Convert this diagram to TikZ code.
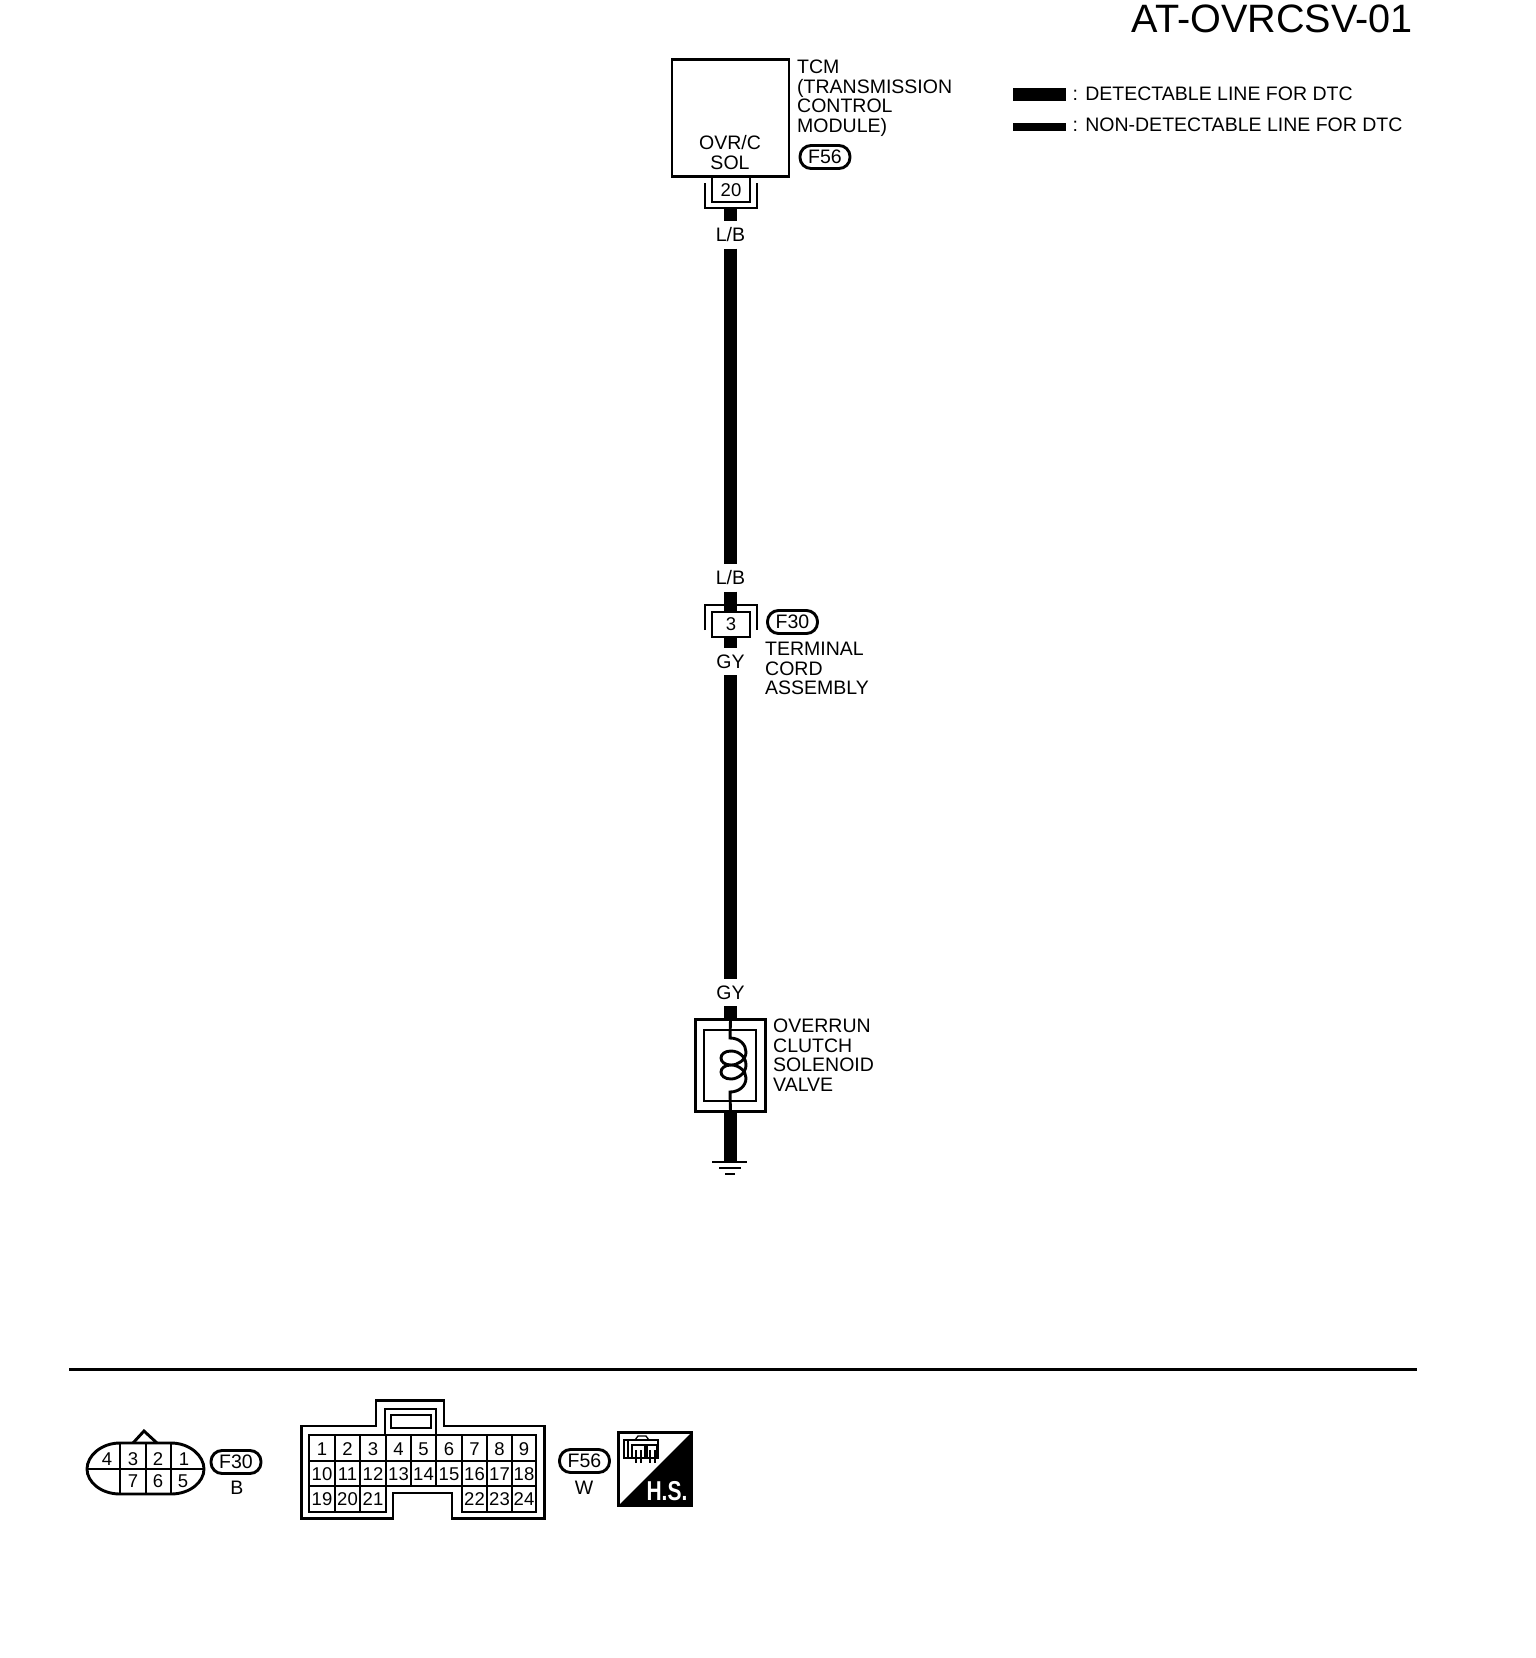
\documentclass[tikz,border=0pt]{standalone}
\usepackage{fontspec}
\setmainfont{Liberation Sans}
\tikzset{
  lbl/.style={inner sep=0pt,font=\fontsize{19.5}{19.5}\selectfont,align=left,anchor=west},
  num/.style={inner sep=0pt,font=\fontsize{18.5}{18}\selectfont},
  wirelbl/.style={inner sep=0pt,minimum width=36pt,minimum height=27pt,font=\fontsize{19.5}{19}\selectfont},
  wire/.style={line width=13pt},
  frame/.style={line width=2.9pt},
  badge/.style={draw,line width=2.9pt,rounded corners=11pt,inner sep=0pt,minimum width=50pt,minimum height=23pt,font=\fontsize{19.5}{19}\selectfont},
}
\begin{document}
\begin{tikzpicture}[x=1pt,y=-1pt]
\useasboundingbox (0,0) rectangle (1536,1658);

% titulo y leyenda
\node[inner sep=0pt,anchor=east,font=\fontsize{39.6}{39}\selectfont] (title) at (1413,19) {AT-OVRCSV-01};
\node[lbl] (legthick) at (1072.5,94) {: DETECTABLE LINE FOR DTC};
\node[lbl] (legthin) at (1072.5,125) {: NON-DETECTABLE LINE FOR DTC};
\fill (1013,88) rectangle (1066,101);
\fill (1013,123) rectangle (1066,131);

% TCM
\node[draw,line width=2.9pt,minimum width=117pt,minimum height=117pt,inner sep=0pt] (tcm) at (730.5,118) {};
\node[lbl,anchor=north west] (tcmtxt) at (797,60) {TCM\\(TRANSMISSION\\CONTROL\\MODULE)};
\node[lbl,anchor=center,align=center] (sol) at (730,152.5) {OVR/C\\SOL};
\node[badge] (f56a) at (825,157) {F56};

\coordinate (c20a) at (712,177);
\coordinate (c20b) at (750,202);
\draw[frame] (c20a) -- (c20a |- c20b) -- (c20b) -- (c20b |- c20a);
\draw[frame] (705,183) -- (705,208) -- (757,208) -- (757,183);
\node[num] (p20) at (731,190) {20};

% cableado
\coordinate (w0) at (730.5,208);
\node[wirelbl] (lb1) at (730.5,235) {L/B};
\node[wirelbl] (lb2) at (730.5,578) {L/B};
\node[wirelbl] (gy1) at (730.5,661.5) {GY};
\node[wirelbl] (gy2) at (730.5,992.5) {GY};
\coordinate (w1) at (730.5,612);
\coordinate (w2) at (730.5,637);
\coordinate (w3) at (730.5,1020);
\coordinate (w4) at (730.5,1112);
\coordinate (gnd) at (730.5,1162);
\draw[wire] (w0) -- (lb1.north);
\draw[wire] (lb1.south) -- (lb2.north);
\draw[wire] (lb2.south) -- (w1);
\draw[wire] (w2) -- (gy1.north);
\draw[wire] (gy1.south) -- (gy2.north);
\draw[wire] (gy2.south) -- (w3);
\draw[wire] (w4) -- (gnd);

% F30
\node[draw,line width=2.9pt,minimum width=38pt,minimum height=25pt,inner sep=0pt] (p3) at (731,624.5) {\fontsize{18.5}{18}\selectfont 3};
\draw[frame] (705,630) -- (705,605) -- (757,605) -- (757,630);
\node[badge] (f30a) at (792.5,622) {F30};
\node[lbl,anchor=north west] (tca) at (765,642) {TERMINAL\\CORD\\ASSEMBLY};

% solenoide
\node[draw,line width=2.9pt,minimum width=70pt,minimum height=92pt,inner sep=0pt] (solo) at (730.5,1065.5) {};
\node[draw,line width=2.9pt,minimum width=52pt,minimum height=71pt,inner sep=0pt] (soli) at (730,1065.5) {};
\node[lbl,anchor=north west] (ovr) at (773,1019) {OVERRUN\\CLUTCH\\SOLENOID\\VALVE};
\coordinate (coila) at (730,1038);
\coordinate (coilb) at (730,1092);
\draw[frame] (w3) -- (coila)
  .. controls (740,1038) and (746,1045) .. (746,1052)
  .. controls (746,1060) and (738,1065) .. (731,1065)
  .. controls (725,1065) and (721,1062) .. (721,1058)
  .. controls (721,1054) and (725,1051) .. (731,1051)
  .. controls (739,1051) and (746,1057) .. (746,1065)
  .. controls (746,1073) and (738,1079) .. (731,1079)
  .. controls (725,1079) and (721,1076) .. (721,1072)
  .. controls (721,1068) and (725,1065) .. (731,1065)
  .. controls (739,1065) and (746,1071) .. (746,1078)
  .. controls (746,1086) and (739,1092) .. (coilb) -- (w4);

% masa
\draw[frame] (712,1162) -- (747,1162);
\draw[frame] (719,1168) -- (741,1168);
\draw[frame] (725,1174) -- (735,1174);

% separador
\draw[line width=3pt] (69,1369.5) -- (1417,1369.5);

% conector F30
\begin{scope}
\draw[frame] (120,1443) -- (171,1443) .. controls (190,1443) and (204,1456) .. (204,1469)
  .. controls (204,1482) and (190,1494) .. (171,1494) -- (120,1494)
  .. controls (101,1494) and (87,1482) .. (87,1469)
  .. controls (87,1456) and (101,1443) .. (120,1443) -- cycle;
\draw[frame] (87,1469) -- (204,1469);
\foreach \x in {120,146,171} \draw[frame] (\x,1443) -- (\x,1494);
\draw[frame] (133,1443) -- (144,1431) -- (157,1443);
\foreach \n/\x/\y in {4/107/1459,3/133/1459,2/158/1459,1/184/1459,7/133/1481,6/158/1481,5/183/1481}
  \node[num] (fa\n) at (\x,\y) {\n};
\node[badge] (f30b) at (236,1462) {F30};
\node[num,font=\fontsize{19.5}{19}\selectfont] (colb) at (237,1488) {B};
\end{scope}

% conector F56
\begin{scope}
\draw[frame] (301.5,1426) -- (376,1426) -- (376,1400.5) -- (444,1400.5) -- (444,1426) -- (544.5,1426)
  -- (544.5,1518.5) -- (452,1518.5) -- (452,1493) -- (393,1493) -- (393,1518.5) -- (301.5,1518.5) -- cycle;
\draw[frame] (385,1435) -- (385,1409) -- (436,1409) -- (436,1435);
\draw[frame] (391,1415) rectangle (431,1428);
\draw[frame] (309,1435) rectangle (536,1486);
\draw[frame] (309,1461) -- (536,1461);
\foreach \x in {335,360,386,411,436,462,487,512} \draw[frame] (\x,1435) -- (\x,1486);
\draw[frame] (309,1486) -- (309,1512) -- (386,1512) -- (386,1486);
\draw[frame] (462,1486) -- (462,1512) -- (536,1512) -- (536,1486);
\foreach \x in {335,360} \draw[frame] (\x,1486) -- (\x,1512);
\foreach \x in {487,512} \draw[frame] (\x,1486) -- (\x,1512);
\foreach \n/\x in {1/322,2/347.5,3/373,4/398.5,5/423.5,6/449,7/474.5,8/499.5,9/524}
  \node[num] (fb\n) at (\x,1449) {\n};
\foreach \n/\x in {10/322,11/347.5,12/373,13/398.5,14/423.5,15/449,16/474.5,17/499.5,18/524}
  \node[num] (fb\n) at (\x,1474) {\n};
\foreach \n/\x in {19/322,20/347.5,21/373,22/474.5,23/499.5,24/524}
  \node[num] (fb\n) at (\x,1499) {\n};
\node[badge] (f56b) at (584.5,1461) {F56};
\node[num,font=\fontsize{19.5}{19}\selectfont] (colw) at (584,1488) {W};
\end{scope}

% H.S.
\draw[line width=2.9pt] (618.5,1432.5) rectangle (691.5,1505.5);
\fill (691.5,1432.5) -- (691.5,1505.5) -- (618.5,1505.5) -- cycle;
\node[inner sep=0pt,text=white,yscale=1.3,transform shape,font=\bfseries\fontsize{21}{21}\selectfont] (hs) at (667,1491) {H.S.};
\begin{scope}[line width=1.3pt]
\draw (624,1440) -- (658,1440) -- (658,1458) -- (624,1458) -- cycle;
\draw (628,1440) -- (628,1458);
\draw (632,1445) rectangle (645,1458);
\draw (647,1445) rectangle (657,1458);
\draw (635,1440) -- (638,1436) -- (646,1436) -- (649,1440);
\foreach \x in {636,641,650,655} \draw (\x,1450) -- (\x,1463);
\end{scope}

\end{tikzpicture}
\end{document}
